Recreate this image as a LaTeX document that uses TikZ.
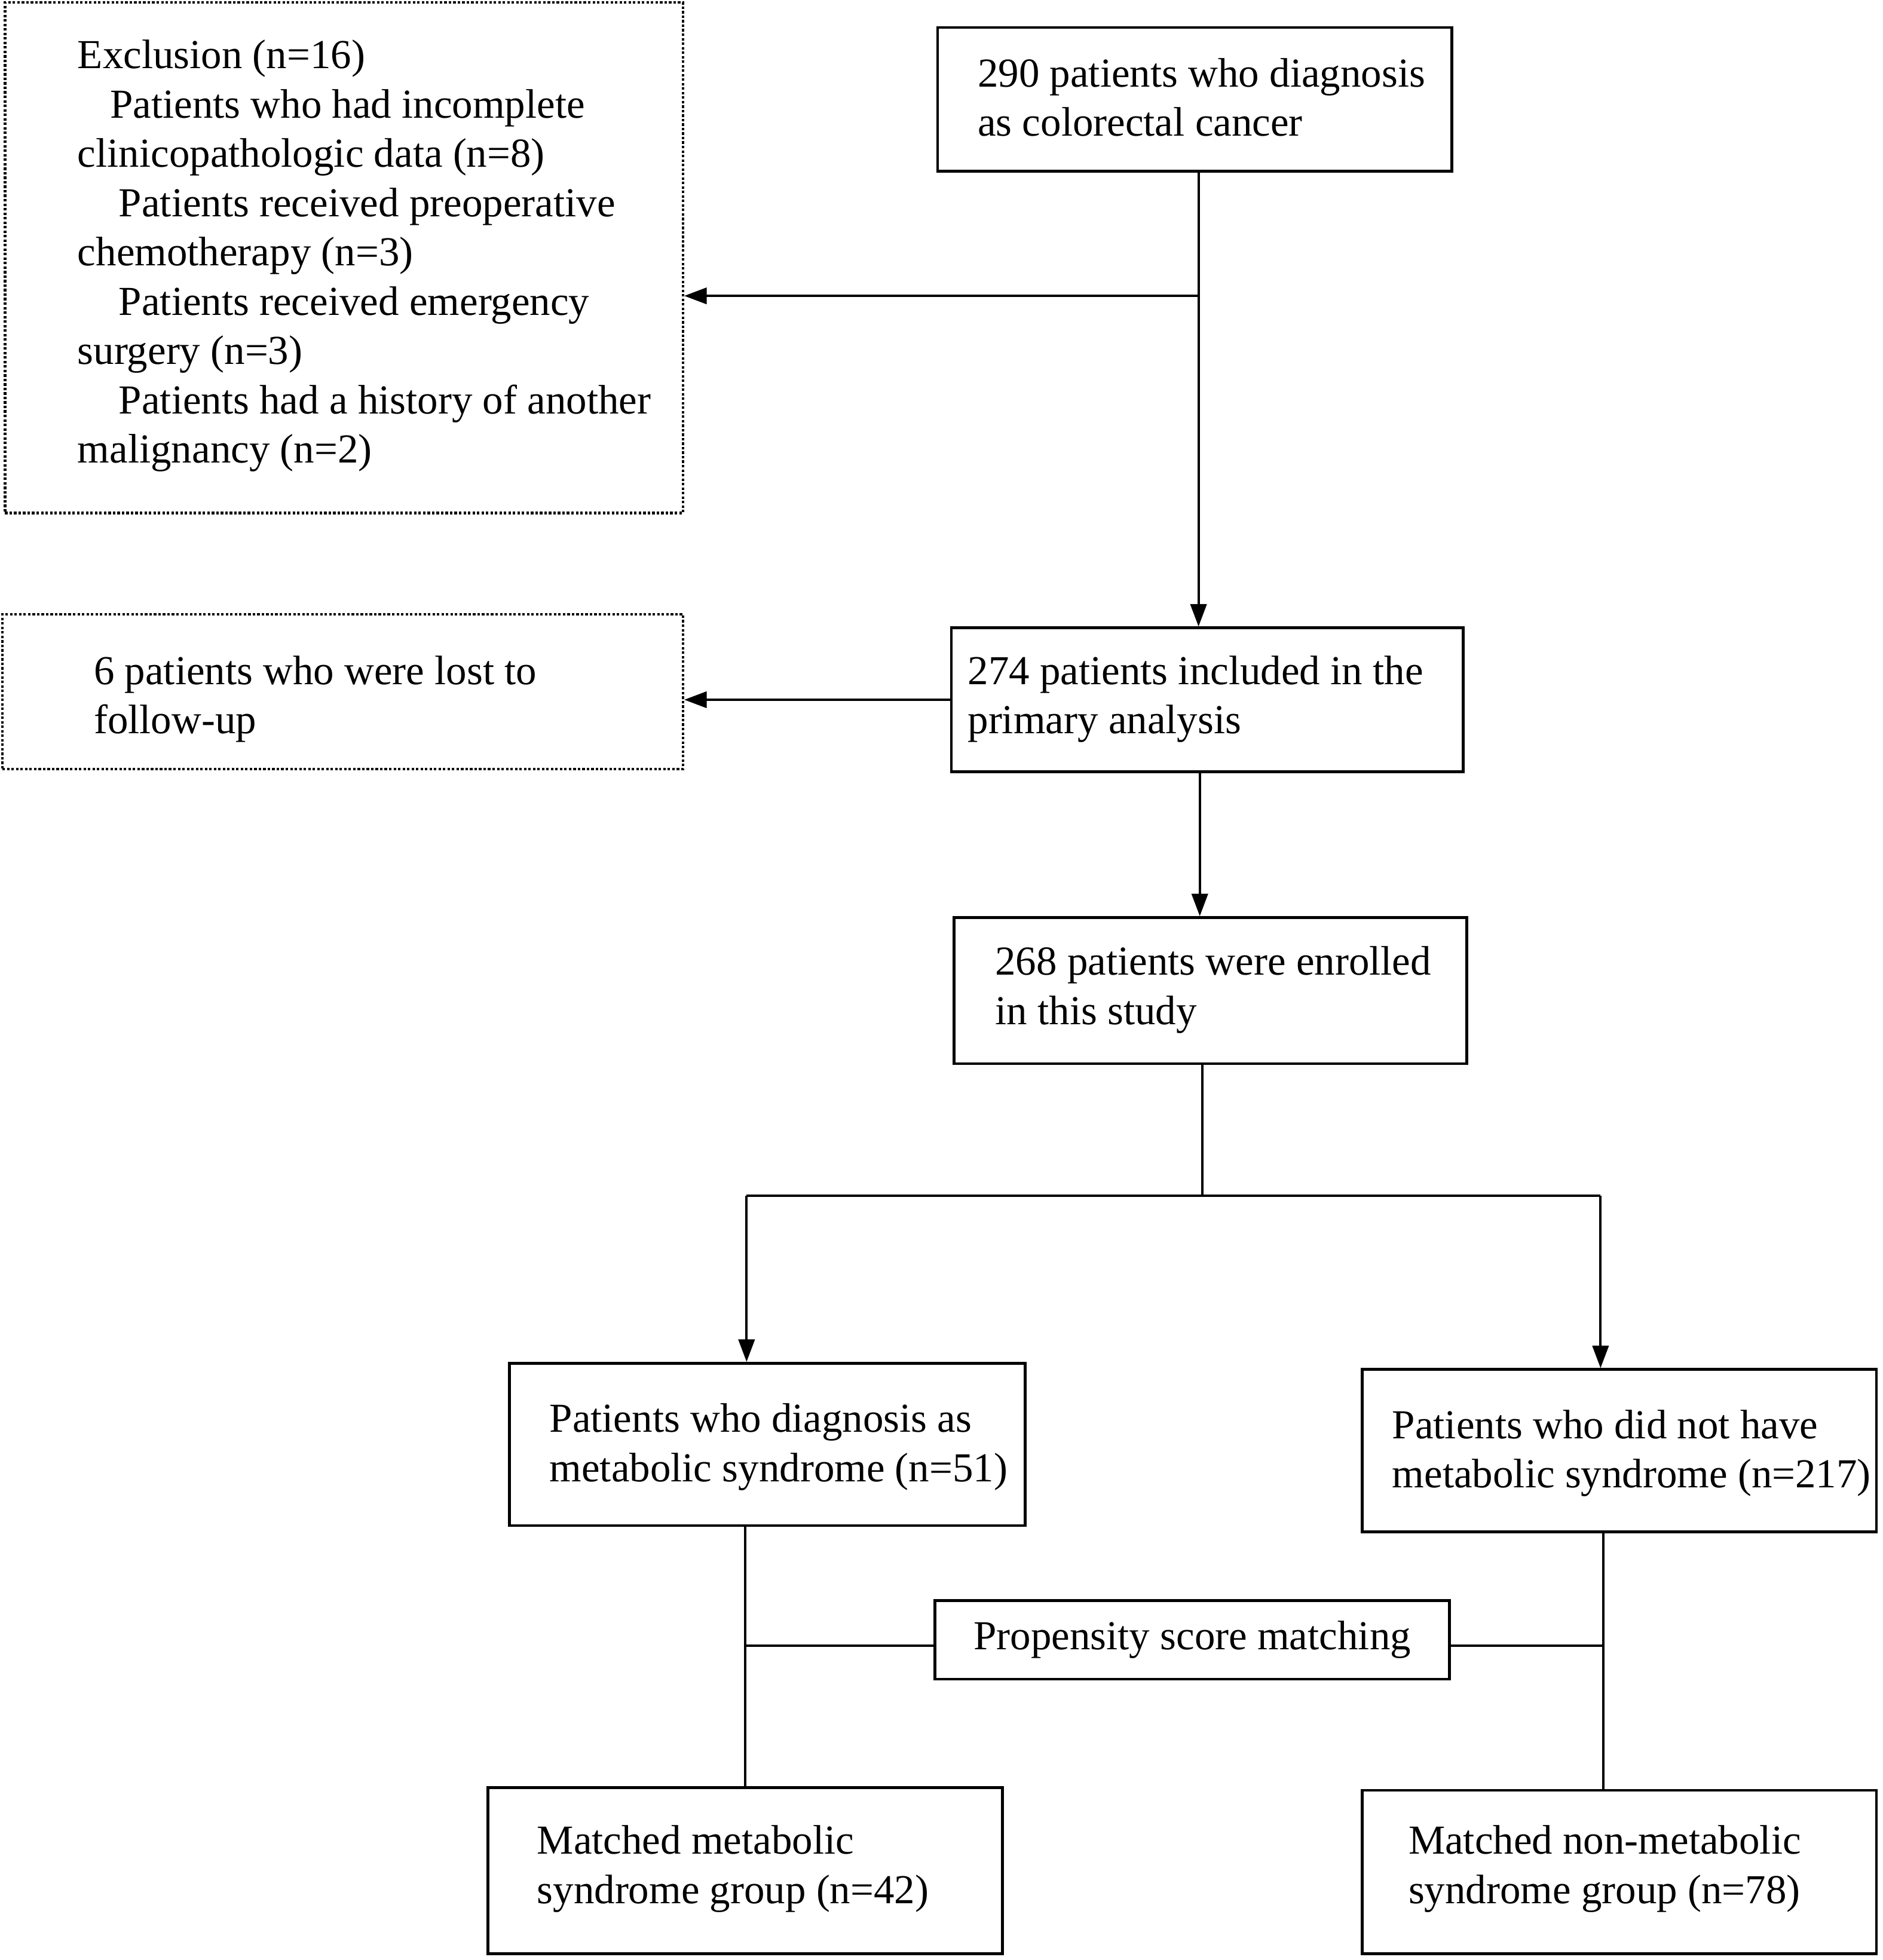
\documentclass[tikz,border=0pt]{standalone}
\usepackage{fontspec}
\setmainfont{Liberation Serif}
\usetikzlibrary{arrows.meta}
\begin{document}
\begin{tikzpicture}[x=1pt,y=-1pt,
  box/.style={draw, line width=2.3pt, rectangle, inner sep=0pt},
  dbox/.style={box, line width=2.1pt, dash pattern=on 2pt off 1.6pt},
  txt/.style={anchor=west, align=left, inner sep=0pt, font=\fontsize{33}{39.5}\selectfont},
  conn/.style={line width=1.9pt},
  arr/.style={conn, -{Triangle[length=18pt,width=13pt]}}
]
\fill[white] (0,0) rectangle (1508,1570);
\useasboundingbox (0,0) rectangle (1508,1570);

% boxes
\node[box, minimum width=412pt, minimum height=115pt] (b290) at (957,79.5) {};
\node[dbox, minimum width=543pt, minimum height=409pt] (excl) at (275.5,206.5) {};
\node[dbox, minimum width=545pt, minimum height=124pt] (b6) at (274.5,554) {};
\node[box, minimum width=410pt, minimum height=115pt] (b274) at (967,560.5) {};
\node[box, minimum width=411pt, minimum height=117pt] (b268) at (969.5,793.5) {};
\node[box, minimum width=413pt, minimum height=130pt] (bms) at (614.5,1157) {};
\node[box, minimum width=412pt, minimum height=130pt] (bnon) at (1297,1162) {};
\node[box, minimum width=412pt, minimum height=63pt, font=\fontsize{33}{39.5}\selectfont] (psm) at (955,1313.5) {Propensity score matching};
\node[box, minimum width=412pt, minimum height=133pt] (mms) at (597,1498.5) {};
\node[box, minimum width=412pt, minimum height=131pt] (mnon) at (1297,1499.5) {};

% texts
\node[txt] (t290) at (783,78) {290 patients who diagnosis\\as colorectal cancer};
\node[txt] (texcl) at (62,205) {Exclusion (n=16)\\
\hspace*{26pt}Patients who had incomplete\\
clinicopathologic data (n=8)\\
\hspace*{33pt}Patients received preoperative\\
chemotherapy (n=3)\\
\hspace*{33pt}Patients received emergency\\
surgery (n=3)\\
\hspace*{33pt}Patients had a history of another\\
malignancy (n=2)};
\node[txt] (t6) at (75,560) {6 patients who were lost to\\follow-up};
\node[txt] (t274) at (775,560) {274 patients included in the\\primary analysis};
\node[txt] (t268) at (797,793) {268 patients were enrolled\\in this study};
\node[txt] (tms) at (440,1159) {Patients who diagnosis as\\metabolic syndrome (n=51)};
\node[txt] (tnon) at (1115,1164) {Patients who did not have\\metabolic syndrome (n=217)};
\node[txt] (tmms) at (430,1497) {Matched metabolic\\syndrome group (n=42)};
\node[txt] (tmnon) at (1128,1497) {Matched non-metabolic\\syndrome group (n=78)};

% connectors
\coordinate (j1) at (960,237);
\draw[arr] (j1 |- b290.south) -- (j1 |- b274.north);
\draw[arr] (j1) -- (j1 -| excl.east);
\draw[arr] (b274.west) -- (b274.west -| b6.east);
\coordinate (c2) at (961,700);
\draw[arr] (c2 |- b274.south) -- (c2 |- b268.north);
\coordinate (j2) at (963,958);
\draw[conn] (j2 |- b268.south) -- (j2);
\coordinate (jl) at (598,958);
\coordinate (jr) at (1282,958);
\draw[conn] (jl) -- (jr);
\draw[arr] (jl) -- (jl |- bms.north);
\draw[arr] (jr) -- (jr |- bnon.north);
\coordinate (vl) at (597,1318);
\coordinate (vr) at (1284,1318);
\draw[conn] (vl |- bms.south) -- (vl |- mms.north);
\draw[conn] (vr |- bnon.south) -- (vr |- mnon.north);
\draw[conn] (vl) -- (vl -| psm.west);
\draw[conn] (vr -| psm.east) -- (vr);
\end{tikzpicture}
\end{document}
